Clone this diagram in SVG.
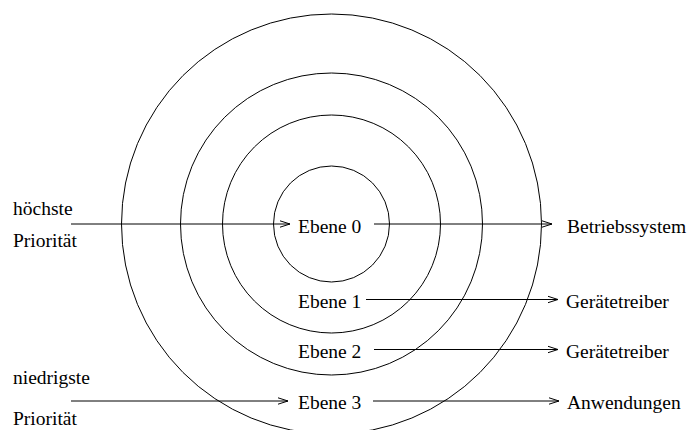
<svg xmlns="http://www.w3.org/2000/svg" width="691" height="430" viewBox="0 0 691 430">
<style>
text { font-family: "Liberation Serif", "Times New Roman", serif; font-size: 19.5px; fill: #000; }
.ring { fill: none; stroke: #000; stroke-width: 1; }
.conn { fill: none; stroke: #000; stroke-width: 1; marker-end: url(#arr); }
</style>
<defs>
<marker id="arr" markerUnits="userSpaceOnUse" markerWidth="14" markerHeight="10" viewBox="-11 -5 13 10" refX="0" refY="0" orient="auto">
<path d="M-10,-3.2 L0,0 L-10,3.2" fill="none" stroke="#000" stroke-width="1"/>
</marker>
</defs>
<rect width="691" height="430" fill="#fff"/>
<g id="rings">
<circle class="ring" cx="331.5" cy="224" r="210"/>
<circle class="ring" cx="331.5" cy="224" r="151"/>
<circle class="ring" cx="331.5" cy="224" r="109"/>
<circle class="ring" cx="331.5" cy="224" r="58"/>
</g>
<g id="connectors">
<line class="conn" x1="71" y1="224" x2="290" y2="224"/>
<line class="conn" x1="374" y1="224" x2="552" y2="224"/>
<line class="conn" x1="366" y1="299.5" x2="558" y2="299.5"/>
<line class="conn" x1="374" y1="349.5" x2="558" y2="349.5"/>
<line class="conn" x1="71" y1="401" x2="288" y2="401"/>
<line class="conn" x1="373" y1="401" x2="559" y2="401"/>
</g>
<g id="label-hoechste"><text x="13" y="215">höchste</text><text x="13" y="247">Priorität</text></g>
<g id="label-niedrigste"><text x="13" y="384">niedrigste</text><text x="13" y="425">Priorität</text></g>
<g id="ebene0"><text x="298" y="233">Ebene 0</text></g>
<g id="ebene1"><text x="298" y="308">Ebene 1</text></g>
<g id="ebene2"><text x="298" y="358">Ebene 2</text></g>
<g id="ebene3"><text x="298" y="409">Ebene 3</text></g>
<g id="betriebssystem"><text x="567" y="233">Betriebssystem</text></g>
<g id="geraetetreiber1"><text x="566" y="308">Gerätetreiber</text></g>
<g id="geraetetreiber2"><text x="566" y="358">Gerätetreiber</text></g>
<g id="anwendungen"><text x="567" y="409">Anwendungen</text></g>
</svg>
